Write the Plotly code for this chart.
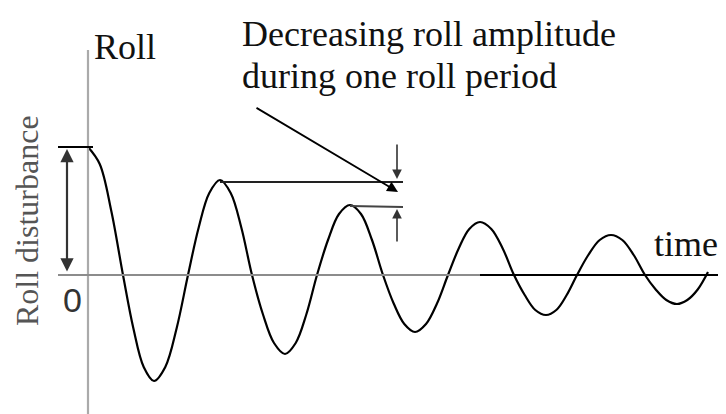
import plotly.graph_objects as go

# Damped roll decay (time units, roll units):
# extrema, zero crossings and two readings inside each quarter swing
time_pts = [0.0, 1.17, 2.33, 3.5, 4.53, 5.57, 6.6, 7.73, 8.87, 10.0,
            11.07, 12.13, 13.2, 14.27, 15.33, 16.4, 17.5, 18.6, 19.7,
            20.77, 21.83, 22.9, 24.0, 25.1, 26.2, 27.3, 28.4, 29.5,
            30.57, 31.63, 32.7, 33.8, 34.9, 36.0, 37.07, 38.13, 39.2,
            40.33, 41.47, 42.6, 43.67, 44.73, 45.8, 46.83, 47.87, 48.9,
            50.03, 51.17, 52.3, 53.43, 54.57, 55.7, 56.77, 57.83, 58.9,
            59.93, 60.97, 62.0]
roll_pts = [12.8, 11.1, 6.4, 0.0, -5.3, -9.2, -10.6, -9.2, -5.3, 0.0,
            4.75, 8.2, 9.5, 8.2, 4.75, 0.0, -3.95, -6.8, -7.9,
            -6.8, -3.95, 0.0, 3.5, 6.1, 7.0, 6.1, 3.5, 0.0,
            -2.85, -4.9, -5.7, -4.9, -2.85, 0.0, 2.65, 4.6, 5.3,
            4.6, 2.65, 0.0, -2.0, -3.5, -4.0, -3.5, -2.0, 0.0,
            2.0, 3.5, 4.0, 3.5, 2.0, 0.0, -1.45, -2.5, -2.9,
            -2.5, -1.45, 0.3]

# Annotation anchor values (time, roll)
first_peak = (0.0, 12.8)
peak_a = (13.2, 9.5)
peak_b = (26.2, 7.0)
marker_t = 30.9
line_end_t = 31.5

title_lines = ["Decreasing roll amplitude", "during one roll period"]
y_label = "Roll disturbance"
x_label = "time"
axis_label = "Roll"
zero_label = "0"

X_RANGE = [-8.0, 63.8]
Y_RANGE = [-13.9, 26.7]

fig = go.Figure()
fig.add_trace(go.Scatter(
    x=time_pts, y=roll_pts, mode="lines",
    line=dict(color="black", width=2.2, shape="spline", smoothing=1.0),
    hoverinfo="skip", showlegend=False,
))

shapes = []
shapes.append(dict(type="line", xref="x", yref="y", x0=0, x1=0, y0=22.5, y1=Y_RANGE[0] - 1,
                   line=dict(color="#aaaaaa", width=2.2)))
shapes.append(dict(type="line", xref="x", yref="y", x0=-3.0, x1=39.2, y0=0, y1=0,
                   line=dict(color="#8c8c8c", width=2.2)))
shapes.append(dict(type="line", xref="x", yref="y", x0=39.2, x1=X_RANGE[1] + 1, y0=0, y1=0,
                   line=dict(color="black", width=2.2)))
shapes.append(dict(type="line", xref="x", yref="y", x0=-3.0, x1=0.5, y0=first_peak[1], y1=first_peak[1],
                   line=dict(color="black", width=2)))
shapes.append(dict(type="line", xref="x", yref="y", x0=peak_a[0], x1=line_end_t,
                   y0=peak_a[1] - 0.2, y1=peak_a[1] - 0.2, line=dict(color="#222222", width=1.8)))
shapes.append(dict(type="line", xref="x", yref="y", x0=peak_b[0], x1=line_end_t,
                   y0=peak_b[1] - 0.1, y1=peak_b[1] - 0.2, line=dict(color="#444444", width=1.8)))
fig.update_layout(shapes=shapes)

serif = "Liberation Serif"
ann = []
ann.append(dict(x=-2.1, y=first_peak[1] - 0.2, ax=-2.1, ay=0.2, xref="x", yref="y", axref="x", ayref="y",
                showarrow=True, arrowhead=2, arrowside="end+start", arrowsize=1.2, arrowwidth=2.2,
                arrowcolor="#333333", text=""))
ann.append(dict(x=31.0, y=8.3, ax=16.7, ay=16.8, xref="x", yref="y", axref="x", ayref="y",
                showarrow=True, arrowhead=2, arrowsize=1.2, arrowwidth=1.8, arrowcolor="black", text=""))
ann.append(dict(x=marker_t, y=9.6, ax=marker_t, ay=13.2, xref="x", yref="y", axref="x", ayref="y",
                showarrow=True, arrowhead=2, arrowsize=1.2, arrowwidth=1.6, arrowcolor="#333333", text=""))
ann.append(dict(x=marker_t, y=6.6, ax=marker_t, ay=3.2, xref="x", yref="y", axref="x", ayref="y",
                showarrow=True, arrowhead=2, arrowsize=1.2, arrowwidth=1.6, arrowcolor="#333333", text=""))

ann.append(dict(x=15.2, y=24.1, xref="x", yref="y", text=title_lines[0], showarrow=False,
                xanchor="left", yanchor="middle", font=dict(family=serif, size=36, color="#111111")))
ann.append(dict(x=15.2, y=19.9, xref="x", yref="y", text=title_lines[1], showarrow=False,
                xanchor="left", yanchor="middle", font=dict(family=serif, size=36, color="#111111")))
ann.append(dict(x=0.4, y=22.8, xref="x", yref="y", text=axis_label, showarrow=False,
                xanchor="left", yanchor="middle", font=dict(family=serif, size=36, color="#111111")))
ann.append(dict(x=56.4, y=3.1, xref="x", yref="y", text=x_label, showarrow=False,
                xanchor="left", yanchor="middle", font=dict(family=serif, size=36, color="#111111")))
ann.append(dict(x=-1.6, y=-2.5, xref="x", yref="y", text=zero_label, showarrow=False,
                xanchor="center", yanchor="middle",
                font=dict(family="Liberation Sans", size=34, color="#333333")))
ann.append(dict(x=-6.1, y=5.4, xref="x", yref="y", text=y_label, showarrow=False, textangle=-90,
                xanchor="center", yanchor="middle", font=dict(family=serif, size=32, color="#555555")))
fig.update_layout(annotations=ann)

fig.update_layout(
    width=718, height=406,
    margin=dict(l=0, r=0, t=0, b=0),
    paper_bgcolor="white", plot_bgcolor="white",
    xaxis=dict(range=X_RANGE, visible=False, fixedrange=True),
    yaxis=dict(range=Y_RANGE, visible=False, fixedrange=True),
    showlegend=False,
)
fig.write_html("out.html")
